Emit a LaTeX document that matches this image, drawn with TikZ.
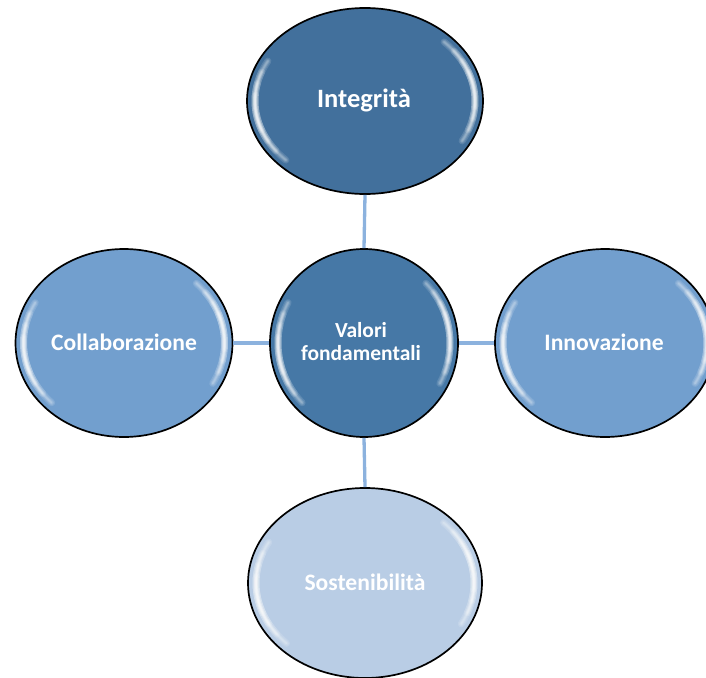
\documentclass[tikz,border=0pt]{standalone}
\usepackage{fontspec}
\setmainfont{Carlito}
\usetikzlibrary{shapes.geometric,calc}
\definecolor{darkblue}{RGB}{66,112,156}
\definecolor{centerblue}{RGB}{70,120,166}
\definecolor{midblue}{RGB}{114,159,206}
\definecolor{lightblue}{RGB}{185,205,229}
\definecolor{linkblue}{RGB}{140,178,222}
\tikzset{
  bubble/.style={ellipse, draw=black, line width=1.7pt, inner sep=0pt},
  lbl/.style={text=white, font=\bfseries\fontsize{23.6}{28}\selectfont, align=center, inner sep=0pt},
  link/.style={draw=linkblue, line width=3.3pt},
}
\newcommand{\gloss}[3]{% center, rx, ry
  \foreach \w in {7,4.5,2.8,1.5}{
    \foreach \s in {36,28,20,12}{
      \draw[white, line width=\w pt, opacity=0.13, line cap=round]
        ($(#1)+({(#2-8)*cos(172-\s)},{(#3-8)*sin(172-\s)})$)
        arc[start angle=172-\s, end angle=172+\s, x radius=#2-8, y radius=#3-8];
      \draw[white, line width=\w pt, opacity=0.13, line cap=round]
        ($(#1)+({(#2-8)*cos(-8-\s)},{(#3-8)*sin(-8-\s)})$)
        arc[start angle=-8-\s, end angle=-8+\s, x radius=#2-8, y radius=#3-8];
    }
  }
}
\begin{document}
\begin{tikzpicture}[x=1pt,y=-1pt]
\useasboundingbox (0,0) rectangle (706,677);
\coordinate (cT) at (365,101);
\coordinate (cC) at (364,343);
\coordinate (cR) at (605,343);
\coordinate (cL) at (124,343);
\coordinate (cB) at (365,583);
% shapes
\node[bubble, fill=darkblue, minimum width=236pt, minimum height=186pt] (int) at (cT) {};
\node[bubble, fill=midblue, minimum width=217pt, minimum height=188pt] (col) at (cL) {};
\node[bubble, fill=midblue, minimum width=220pt, minimum height=188pt] (inn) at (cR) {};
\node[bubble, fill=lightblue, minimum width=234pt, minimum height=190pt] (sos) at (cB) {};
\node[bubble, fill=centerblue, minimum width=188pt, minimum height=188pt] (val) at (cC) {};
% connectors
\draw[link] (int.south) -- (val.north);
\draw[link] (val.south) -- (sos.north);
\draw[link] (col.east) -- (val.west);
\draw[link] (val.east) -- (inn.west);
% gloss
\gloss{cT}{118}{93}
\gloss{cL}{108.5}{94}
\gloss{cR}{110}{94}
\gloss{cB}{117}{95}
\gloss{cC}{94}{94}
% labels
\node[lbl, font=\bfseries\fontsize{26.5}{30}\selectfont] (tint) at (364,100) {Integrità};
\node[lbl] (tcol) at (124,342) {Collaborazione};
\node[lbl] (tinn) at (604,342) {Innovazione};
\node[lbl] (tsos) at (365,582) {Sostenibilità};
\node[lbl, font=\bfseries\fontsize{21.5}{23}\selectfont] (tval) at (361,342) {Valori\\fondamentali};
\end{tikzpicture}
\end{document}
